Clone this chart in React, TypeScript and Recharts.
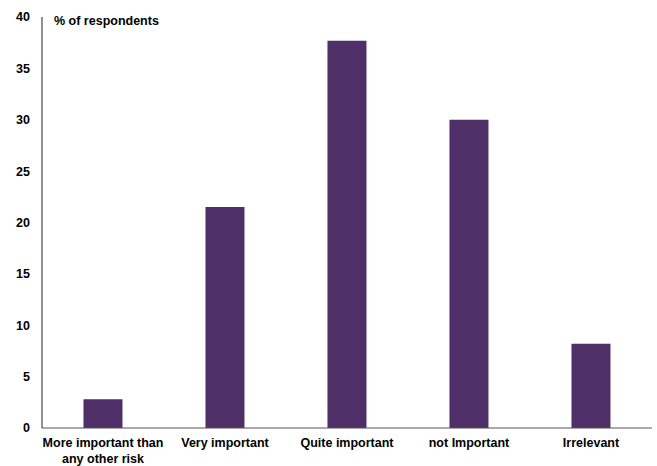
import React from 'react';
import { BarChart, Bar, XAxis, YAxis } from 'recharts';

const categories = ['More important than any other risk', 'Very important', 'Quite important', 'not Important', 'Irrelevant'];
const respondents = [2.8, 21.5, 37.7, 30.0, 8.2];
const yTicks = [0, 5, 10, 15, 20, 25, 30, 35, 40];

const data = categories.map((name, i) => ({ name, value: respondents[i] }));

const FONT = 'Liberation Sans, Arial, sans-serif';

// split long category names over several lines
const wrap = (s: string, max: number) => {
    const lines: string[] = [];
    let cur = '';
    s.split(' ').forEach(w => {
        const next = cur ? cur + ' ' + w : w;
        if (next.length > max && cur) {
            lines.push(cur);
            cur = w;
        } else {
            cur = next;
        }
    });
    if (cur) lines.push(cur);
    return lines;
};

const CategoryTick = (props: any) => {
    const { x, y, payload } = props;
    const lines = wrap(payload.value, 20);
    return (
        <text x={x} y={y} textAnchor="middle" fontFamily={FONT} fontSize={12.5} fontWeight="bold" fill="#000">
            {lines.map((l, i) => (
                <tspan key={i} x={x} dy={i === 0 ? 14 : 15.5}>{l}</tspan>
            ))}
        </text>
    );
};

export default function App() {
    return (
        <div style={{ position: 'fixed', left: 0, top: 0, width: 657, height: 466, background: '#fff' }}>
            <BarChart width={657} height={466} data={data} margin={{ top: 17, right: 5, left: 0, bottom: 0 }} barCategoryGap="34%">
                <XAxis
                    dataKey="name"
                    height={38}
                    tick={<CategoryTick />}
                    tickLine={false}
                    tickSize={0}
                    tickMargin={5}
                    interval={0}
                    axisLine={{ stroke: '#555', strokeWidth: 1 }}
                />
                <YAxis
                    width={42}
                    domain={[0, 40]}
                    ticks={yTicks}
                    tickLine={false}
                    tickSize={0}
                    tickMargin={12}
                    axisLine={{ stroke: '#222', strokeWidth: 1 }}
                    tick={{ fontFamily: FONT, fontSize: 12.5, fontWeight: 'bold', fill: '#000' }}
                />
                <Bar dataKey="value" fill="#4e2f68" isAnimationActive={false} />
            </BarChart>
            <div style={{ position: 'absolute', left: 54, top: 14, fontFamily: FONT, fontSize: 12.5, fontWeight: 'bold', color: '#000' }}>
                % of respondents
            </div>
        </div>
    );
}
